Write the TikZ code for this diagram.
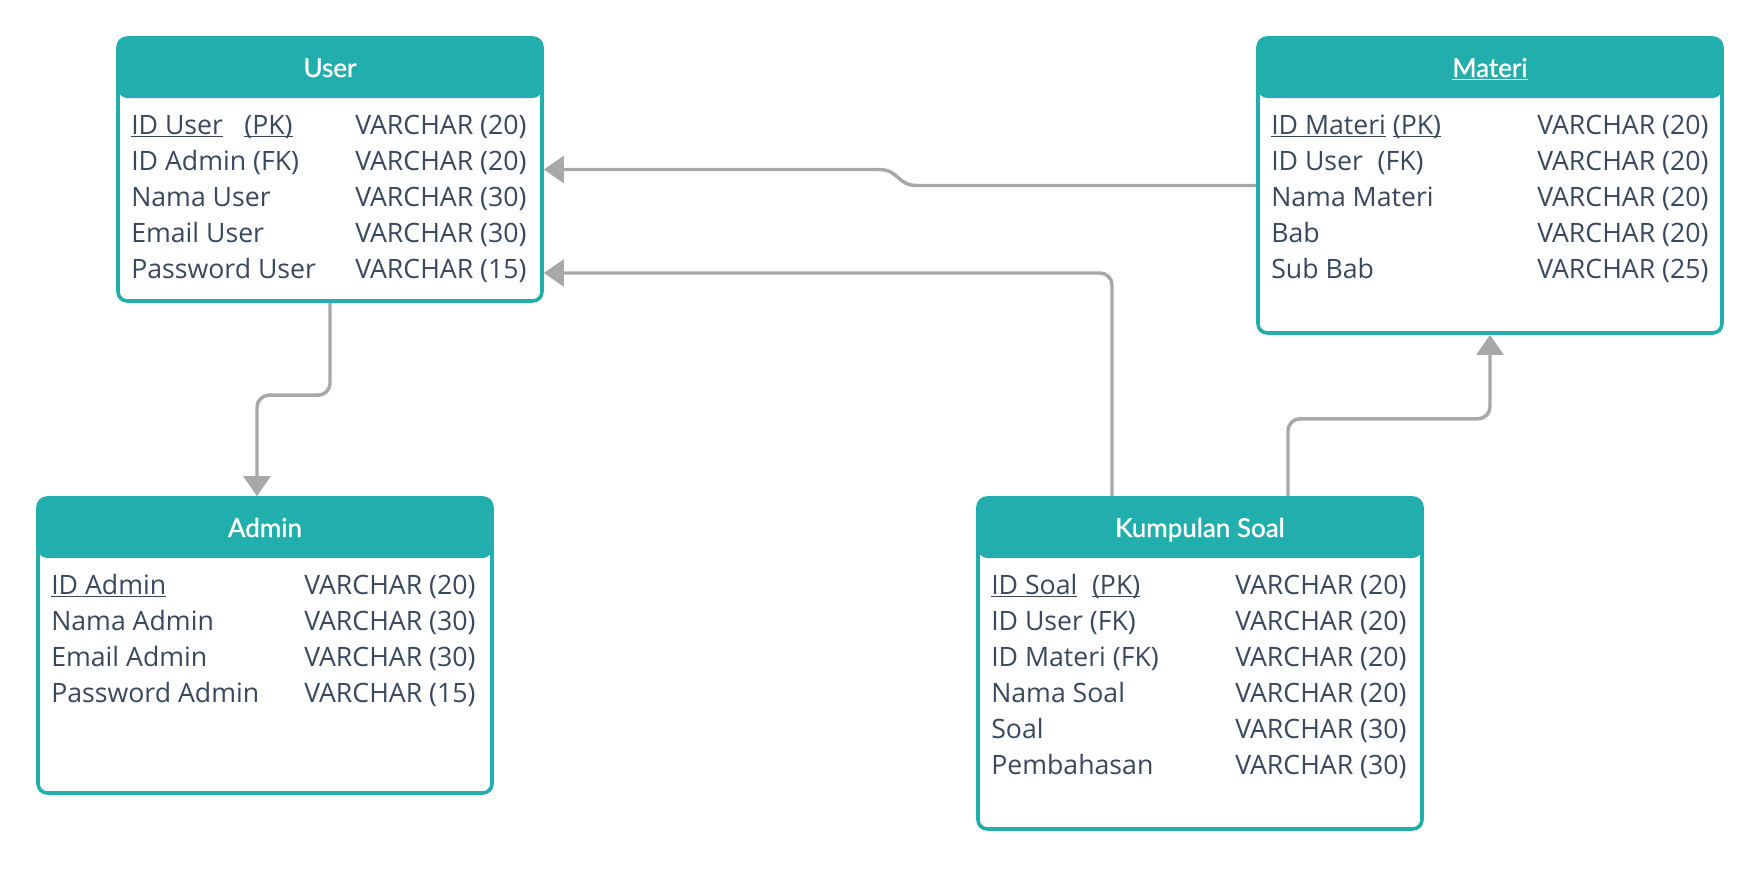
\documentclass[tikz,border=0pt]{standalone}
\usepackage{fontspec}
\setmainfont{Open Sans}
\newfontfamily\headfont{Lato}[FakeBold=1.2]
\usetikzlibrary{arrows.meta, positioning, calc}
\definecolor{tealhead}{RGB}{34,174,173}
\definecolor{slate}{RGB}{58,72,94}
\definecolor{linkgray}{RGB}{168,168,168}
\newcommand{\keyline}[1]{\setbox0\hbox{#1}\rlap{\rule[-2.6pt]{\wd0}{0.9pt}}\box0\relax}

\begin{document}
\begin{tikzpicture}[x=0.75pt, y=-0.75pt,
  tbl/.style={draw=tealhead, line width=2.7pt, fill=white, rounded corners=7pt, inner sep=0pt,
    path picture={\fill[tealhead] (path picture bounding box.north west) rectangle ([yshift=-45pt]path picture bounding box.north east);}},
  head/.style={anchor=base, text=white, inner sep=0pt, font=\headfont\fontsize{19.5pt}{23pt}\selectfont},
  row/.style={anchor=base west, text=slate, inner sep=0pt, font=\fontsize{20pt}{24pt}\selectfont},
  link/.style={draw=linkgray, line width=2.6pt, rounded corners=9pt, -{Triangle[length=15pt,width=20pt]}}]
  \fill[white] (0,0) rectangle (1761,868);
  \useasboundingbox (0,0) rectangle (1761,868);
  % User
  \node[tbl, minimum width=318pt, minimum height=197.25pt] (user) at (330,169.5) {};
  \node[head] (user-title) at (330,77) {User};
  \node[row] (user-n1) at (131,134) {\keyline{ID User}\hspace{16pt}\keyline{(PK)}};
  \node[row] (user-n2) at (131,170) {ID Admin (FK)};
  \node[row] (user-n3) at (131,206) {Nama User};
  \node[row] (user-n4) at (131,242) {Email User};
  \node[row] (user-n5) at (131,278) {Password User};
  \node[row] (user-t1) at (355,134) {VARCHAR (20)};
  \node[row] (user-t2) at (355,170) {VARCHAR (20)};
  \node[row] (user-t3) at (355,206) {VARCHAR (30)};
  \node[row] (user-t4) at (355,242) {VARCHAR (30)};
  \node[row] (user-t5) at (355,278) {VARCHAR (15)};
  % Materi
  \node[tbl, minimum width=348pt, minimum height=221.25pt] (materi) at (1490,185.5) {};
  \node[head] (materi-title) at (1490,77) {\keyline{Materi}};
  \node[row] (materi-n1) at (1271,134) {\keyline{ID Materi} \keyline{(PK)}};
  \node[row] (materi-n2) at (1271,170) {ID User\hspace{11pt}(FK)};
  \node[row] (materi-n3) at (1271,206) {Nama Materi};
  \node[row] (materi-n4) at (1271,242) {Bab};
  \node[row] (materi-n5) at (1271,278) {Sub Bab};
  \node[row] (materi-t1) at (1537,134) {VARCHAR (20)};
  \node[row] (materi-t2) at (1537,170) {VARCHAR (20)};
  \node[row] (materi-t3) at (1537,206) {VARCHAR (20)};
  \node[row] (materi-t4) at (1537,242) {VARCHAR (20)};
  \node[row] (materi-t5) at (1537,278) {VARCHAR (25)};
  % Admin
  \node[tbl, minimum width=340.5pt, minimum height=221.25pt] (admin) at (265,645.5) {};
  \node[head] (admin-title) at (265,537) {Admin};
  \node[row] (admin-n1) at (51,594) {\keyline{ID Admin}};
  \node[row] (admin-n2) at (51,630) {Nama Admin};
  \node[row] (admin-n3) at (51,666) {Email Admin};
  \node[row] (admin-n4) at (51,702) {Password Admin};
  \node[row] (admin-t1) at (304,594) {VARCHAR (20)};
  \node[row] (admin-t2) at (304,630) {VARCHAR (30)};
  \node[row] (admin-t3) at (304,666) {VARCHAR (30)};
  \node[row] (admin-t4) at (304,702) {VARCHAR (15)};
  % Kumpulan Soal
  \node[tbl, minimum width=333pt, minimum height=248.25pt] (soal) at (1200,663.5) {};
  \node[head] (soal-title) at (1200,537) {Kumpulan Soal};
  \node[row] (soal-n1) at (991,594) {\keyline{ID Soal}\hspace{11pt}\keyline{(PK)}};
  \node[row] (soal-n2) at (991,630) {ID User (FK)};
  \node[row] (soal-n3) at (991,666) {ID Materi (FK)};
  \node[row] (soal-n4) at (991,702) {Nama Soal};
  \node[row] (soal-n5) at (991,738) {Soal};
  \node[row] (soal-n6) at (991,774) {Pembahasan};
  \node[row] (soal-t1) at (1235,594) {VARCHAR (20)};
  \node[row] (soal-t2) at (1235,630) {VARCHAR (20)};
  \node[row] (soal-t3) at (1235,666) {VARCHAR (20)};
  \node[row] (soal-t4) at (1235,702) {VARCHAR (20)};
  \node[row] (soal-t5) at (1235,738) {VARCHAR (30)};
  \node[row] (soal-t6) at (1235,774) {VARCHAR (30)};
  % Relations
  \draw[link] (user.south) |- ($(admin.north)+(-8,-101)$) -- ($(admin.north)+(-8,0)$);
  \draw[link, sharp corners] (materi.west) -- (917,185.5) .. controls (897,185.5) and (899,169.5) .. (879,169.5) -- (user.east);
  \draw[link] ($(soal.north)+(-88,0)$) |- ($(user.east)+(0,103.5)$);
  \draw[link] ($(soal.north)+(88,0)$) |- ($(materi.south)+(0,84)$) -- (materi.south);
\end{tikzpicture}
\end{document}
